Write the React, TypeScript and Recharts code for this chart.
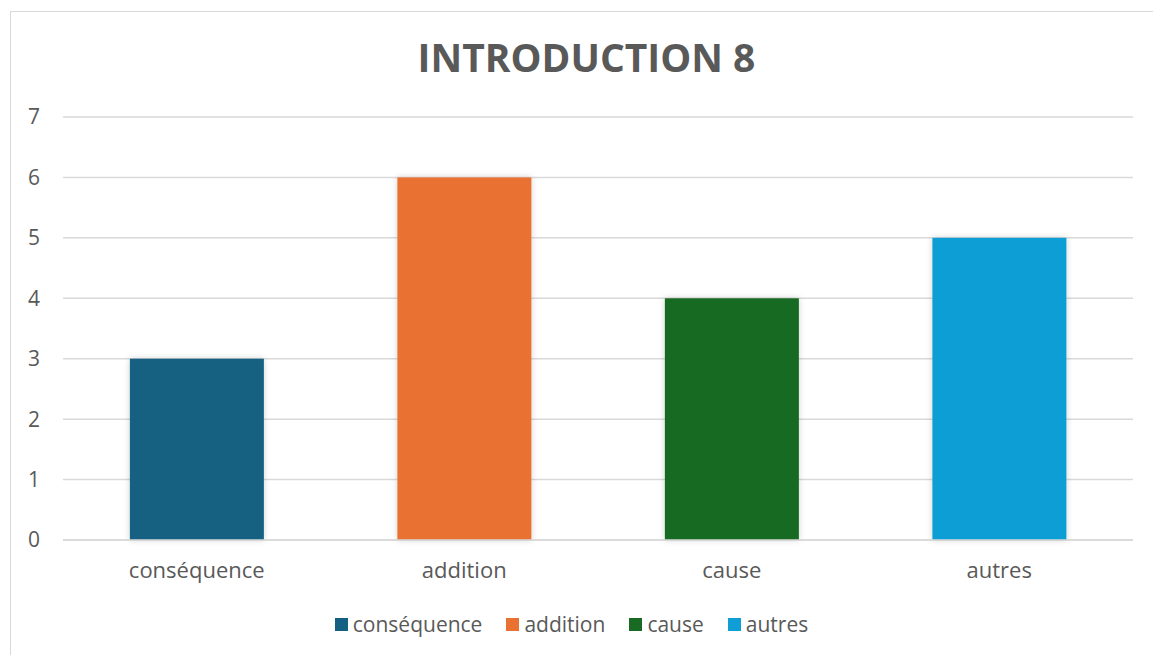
import React from "react";
import { BarChart, Bar, XAxis, YAxis, CartesianGrid, Cell } from "recharts";

const categories = ["conséquence", "addition", "cause", "autres"];
const values = [3, 6, 4, 5];
const colors = ["#156082", "#E97132", "#196B24", "#0F9ED5"];
const yTicks = [0, 1, 2, 3, 4, 5, 6, 7];
const title = "INTRODUCTION 8";

const data = categories.map((c, i) => ({ name: c, value: values[i] }));
const FONT = "'Open Sans', 'Liberation Sans', Arial, sans-serif";

const ShadowBar = (props: any) => {
  const { x, y, width, height, fill, index } = props;
  const id = `barShadow${index}`;
  return (
    <g>
      <defs>
        <filter id={id} x="-20%" y="-20%" width="140%" height="140%">
          <feDropShadow dx="0" dy="0" stdDeviation="3" floodColor="#000" floodOpacity="0.18" />
        </filter>
      </defs>
      <rect x={x} y={y} width={width} height={height} fill={fill} filter={`url(#${id})`} />
    </g>
  );
};

export default function App() {
  return (
    <div style={{ position: "absolute", left: 0, top: 0, width: 1153, height: 655, overflow: "hidden", background: "#fff" }}>
      <div style={{ position: "absolute", left: 10, top: 11, width: 1160, height: 660, border: "1px solid #d9d9d9", boxSizing: "border-box" }} />
      <div style={{ position: "absolute", left: 0, top: 30, width: 1173, textAlign: "center", fontFamily: FONT, fontWeight: 700, fontSize: 39, color: "#595959" }}>
        {title}
      </div>
      <div style={{ position: "absolute", left: 0, top: 0 }}>
        <BarChart width={1153} height={655} data={data} margin={{ top: 117, right: 20, bottom: 85, left: 0 }} barCategoryGap="25%">
          <CartesianGrid vertical={false} stroke="#d9d9d9" strokeWidth={1.5} />
          <XAxis dataKey="name" height={30} axisLine={{ stroke: "#d9d9d9", strokeWidth: 1.5 }} tickLine={false} tickSize={0} tickMargin={22} tick={{ fill: "#595959", fontSize: 22, fontFamily: FONT }} interval={0} />
          <YAxis width={63} domain={[0, 7]} ticks={yTicks} axisLine={false} tickLine={false} tickSize={0} tickMargin={23} tick={{ fill: "#595959", fontSize: 21, fontFamily: FONT }} />
          <Bar dataKey="value" isAnimationActive={false} shape={ShadowBar}>
            {data.map((d, i) => (
              <Cell key={d.name} fill={colors[i]} />
            ))}
          </Bar>
        </BarChart>
      </div>
      <div style={{ position: "absolute", left: 0, top: 609, width: 1143, display: "flex", justifyContent: "center", alignItems: "center", gap: 24, fontFamily: FONT, fontSize: 21, color: "#595959", lineHeight: "30px" }}>
        {categories.map((c, i) => (
          <div key={c} style={{ display: "flex", alignItems: "center" }}>
            <span style={{ display: "inline-block", width: 13, height: 13, background: colors[i], marginRight: 5 }} />
            <span>{c}</span>
          </div>
        ))}
      </div>
    </div>
  );
}
